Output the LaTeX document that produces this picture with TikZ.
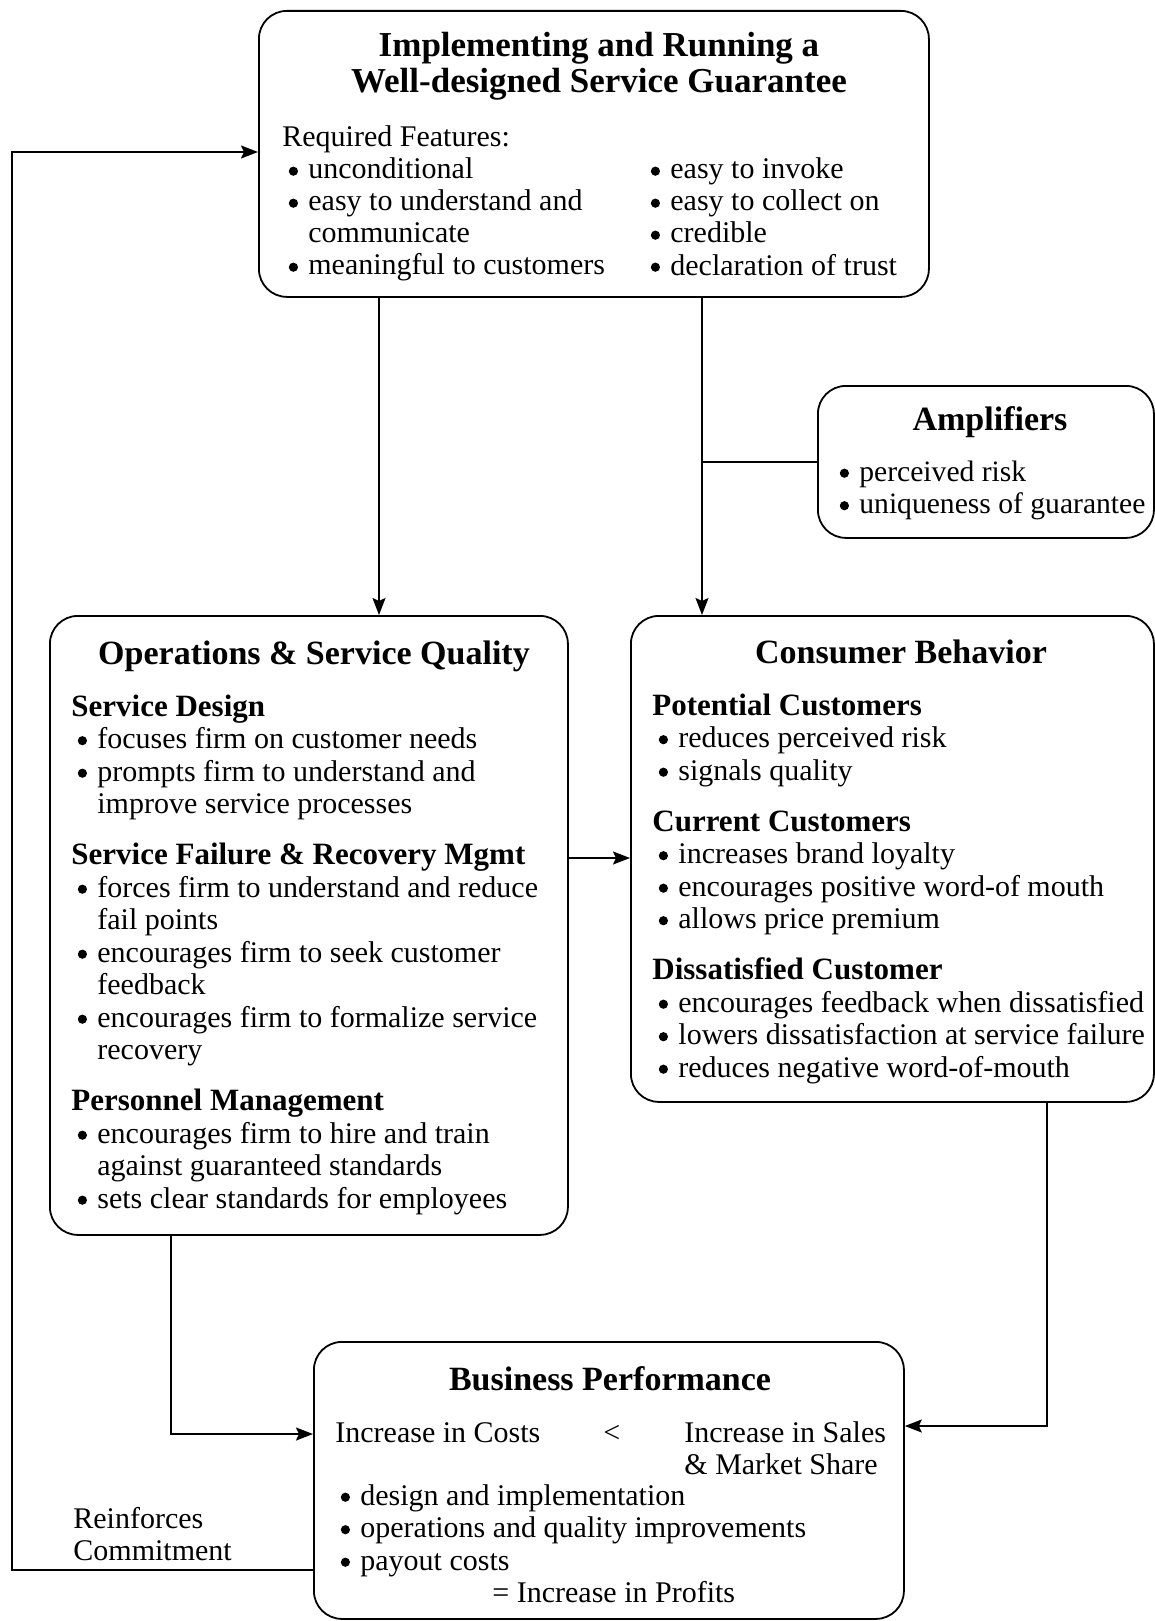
\documentclass[tikz,border=0pt]{standalone}
\usepackage{fontspec}
\setmainfont{Liberation Serif}
\usetikzlibrary{arrows.meta}

% type sizes
\newcommand\bodyfont{\fontsize{15}{16.25}\selectfont}
\newcommand\featfont{\fontsize{15}{16}\selectfont}
\newcommand\ampfont{\fontsize{14.8}{16.25}\selectfont}
\newcommand\hdfont{\fontsize{15.5}{16.25}\selectfont\bfseries}
\newcommand\ttlfont{\fontsize{17}{17.75}\selectfont\bfseries}
\newcommand\bigttlfont{\fontsize{17.5}{17.75}\selectfont\bfseries}

% bullet column and list helpers
\newcommand\dotmark{\tikz[baseline={(0pt,-3.9pt)}]\fill (0pt,0pt) circle[radius=2.3pt];}
\newcommand\bul{\makebox[13pt][l]{\hspace{3.2pt}\dotmark}}
\newcommand\hd[1]{\multicolumn{2}{@{}l@{}}{\hdfont #1}}
\newenvironment{blist}{\begin{tabular}[t]{@{}l@{}l@{}}}{\end{tabular}}

\begin{document}
\begin{tikzpicture}[x=0.5pt,y=-0.5pt,
  box/.style={draw, line width=0.9pt, rounded corners=14pt, inner sep=0pt, anchor=north west},
  txt/.style={inner sep=0pt, anchor=base west, font=\bodyfont},
  ttl/.style={inner sep=0pt, anchor=base, font=\ttlfont},
  link/.style={line width=0.9pt},
  arr/.style={link, -{Stealth[length=8.5pt,width=6.5pt,inset=1.5pt]}}]

\fill[white] (0,0) rectangle (1155,1621);
\useasboundingbox (0,0) rectangle (1155,1621);

% ---------- boxes ----------
\node[box, minimum width=335pt, minimum height=143pt]   (top)  at (258,10)   {};
\node[box, minimum width=168pt, minimum height=76pt]    (amp)  at (817,385)  {};
\node[box, minimum width=259pt, minimum height=309.5pt] (ops)  at (49,615)   {};
\node[box, minimum width=261.5pt, minimum height=243pt] (cons) at (630,615)  {};
\node[box, minimum width=295pt, minimum height=138.5pt] (bp)   at (313,1341) {};

% ---------- guarantee ----------
\node[ttl, font=\bigttlfont] (topttl) at (599,57)
  {\begin{tabular}[t]{@{}c@{}}Implementing and Running a\\ Well-designed Service Guarantee\end{tabular}};
\node[txt, font=\featfont] (featl) at (282,147) {\begin{blist}
  \multicolumn{2}{@{}l@{}}{Required Features:}\\
  \bul & unconditional\\
  \bul & easy to understand and\\
       & communicate\\
  \bul & meaningful to customers
\end{blist}};
\node[txt, font=\featfont] (featr) at (644,179) {\begin{blist}
  \bul & easy to invoke\\
  \bul & easy to collect on\\
  \bul & credible\\
  \bul & declaration of trust
\end{blist}};

% ---------- amplifiers ----------
\node[ttl] (ampttl) at (990,430) {Amplifiers};
\node[txt, font=\ampfont] (amplist) at (833,481) {\begin{blist}
  \bul & perceived risk\\
  \bul & uniqueness of guarantee
\end{blist}};

% ---------- operations ----------
\node[ttl] (opsttl) at (314,664) {Operations \& Service Quality};
\node[txt] (opslist) at (71,716) {\begin{blist}
  \hd{Service Design}\\
  \bul & focuses firm on customer needs\\
  \bul & prompts firm to understand and\\
       & improve service processes\\[9.25pt]
  \hd{Service Failure \& Recovery Mgmt}\\
  \bul & forces firm to understand and reduce\\
       & fail points\\
  \bul & encourages firm to seek customer\\
       & feedback\\
  \bul & encourages firm to formalize service\\
       & recovery\\[9.25pt]
  \hd{Personnel Management}\\
  \bul & encourages firm to hire and train\\
       & against guaranteed standards\\
  \bul & sets clear standards for employees
\end{blist}};

% ---------- consumer behavior ----------
\node[ttl] (consttl) at (901,663) {Consumer Behavior};
\node[txt] (conslist) at (652,715) {\begin{blist}
  \hd{Potential Customers}\\
  \bul & reduces perceived risk\\
  \bul & signals quality\\[9.25pt]
  \hd{Current Customers}\\
  \bul & increases brand loyalty\\
  \bul & encourages positive word-of mouth\\
  \bul & allows price premium\\[9.25pt]
  \hd{Dissatisfied Customer}\\
  \bul & encourages feedback when dissatisfied\\
  \bul & lowers dissatisfaction at service failure\\
  \bul & reduces negative word-of-mouth
\end{blist}};

% ---------- business performance ----------
\node[ttl] (bpttl) at (610,1390) {Business Performance};
\node[txt] (costs) at (335,1442) {Increase in Costs};
\node[txt] (less)  at (603,1442) {<};
\node[txt] (sales) at (684,1442)
  {\begin{tabular}[t]{@{}l@{}}Increase in Sales\\ \& Market Share\end{tabular}};
\node[txt] (bplist) at (334,1505) {\begin{blist}
  \bul & design and implementation\\
  \bul & operations and quality improvements\\
  \bul & payout costs
\end{blist}};
\node[txt] (profit) at (492,1602) {= Increase in Profits};

\node[txt] (reinf) at (73,1528)
  {\begin{tabular}[t]{@{}l@{}}Reinforces\\ Commitment\end{tabular}};

% ---------- connectors ----------
\coordinate (xa) at (379,0);
\coordinate (xb) at (702,0);
\coordinate (ya) at (0,858);
\coordinate (xc) at (171,0);
\coordinate (yb) at (0,1434);
\coordinate (xd) at (1047,0);
\coordinate (yc) at (0,1426);
\coordinate (fa) at (12,1570);
\coordinate (fb) at (12,152);

\draw[arr]  (top.south -| xa) -- (ops.north -| xa);
\draw[arr]  (top.south -| xb) -- (cons.north -| xb);
\draw[link] (amp.west) -- (amp.west -| xb);
\draw[arr]  (ops.east |- ya) -- (cons.west |- ya);
\draw[arr]  (ops.south -| xc) |- (bp.west |- yb);
\draw[arr]  (cons.south -| xd) |- (bp.east |- yc);
\draw[arr]  (bp.west |- fa) -- (fa) -- (fb) -- (top.west |- fb);

\end{tikzpicture}
\end{document}
